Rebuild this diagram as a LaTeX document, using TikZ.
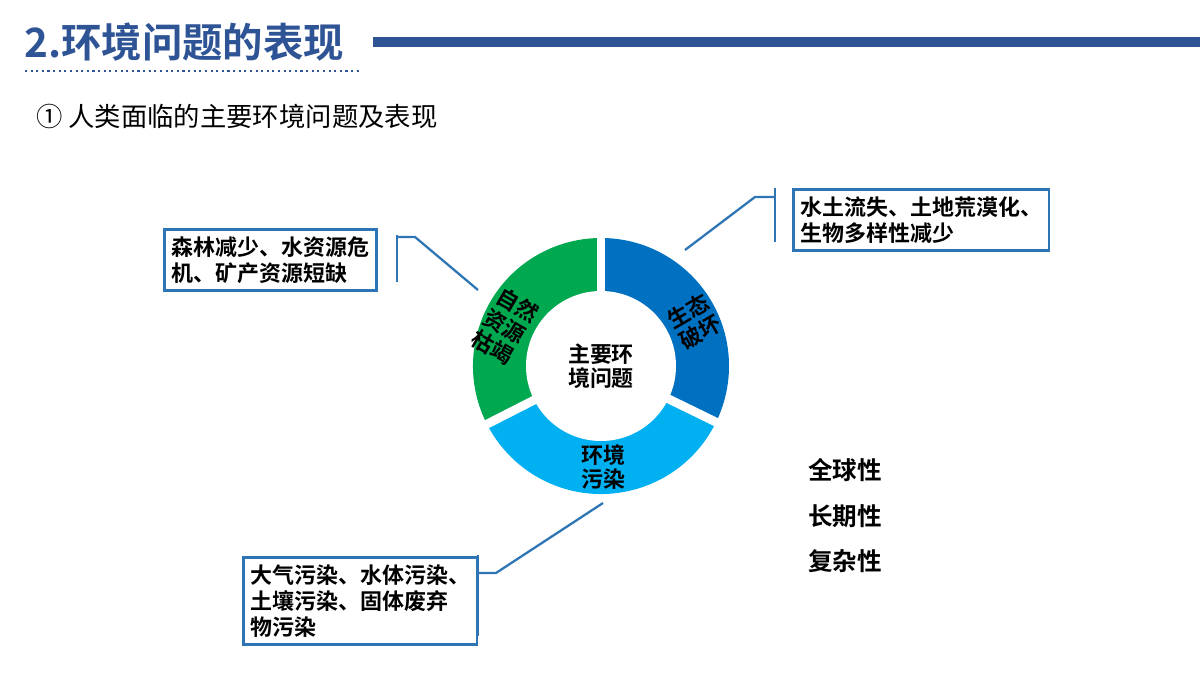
\documentclass[tikz,border=0pt]{standalone}
\usepackage{fontspec}
\setmainfont{Noto Sans CJK SC}
\newfontfamily\cjkbold{Noto Sans CJK SC Bold}
\usetikzlibrary{positioning}
\definecolor{titleblue}{RGB}{47,84,150}
\definecolor{boxblue}{RGB}{46,117,182}
\definecolor{ringgreen}{RGB}{0,168,80}
\definecolor{ringdark}{RGB}{0,112,192}
\definecolor{ringlight}{RGB}{0,176,240}
\tikzset{
  infobox/.style={draw=boxblue,line width=1.6pt,align=left,inner sep=4pt,
    font=\cjkbold\fontsize{12.5pt}{15pt}\selectfont},
  callout/.style={draw=boxblue,line width=1.3pt},
  ringtext/.style={align=center,inner sep=0pt,font=\cjkbold\fontsize{12.5pt}{14pt}\selectfont},
  trait/.style={font=\cjkbold\fontsize{14pt}{16pt}\selectfont,anchor=west}
}
\begin{document}
\begin{tikzpicture}[x=0.02cm,y=-0.02cm]
    \useasboundingbox (0,0) rectangle (1200,675);
    %Header
    \node[anchor=west,text=titleblue,font=\cjkbold\fontsize{23pt}{26pt}\selectfont] (title) at (18,42) {2.环境问题的表现};
    \fill[titleblue] (373,37) rectangle (1200,47);
    \draw[titleblue,line width=1.2pt,dotted] (25,71) -- (360,71);
    \node[anchor=west,font=\fontsize{15pt}{18pt}\selectfont] (sub) at (30,116) {① 人类面临的主要环境问题及表现};

    %Ring (y axis points down, so angles are mirrored)
    \coordinate (c) at (601,366);
    \fill[ringdark] (c) -- ++(-90:128) arc[start angle=-90,end angle=26,radius=128] -- cycle;
    \fill[ringgreen] (c) -- ++(-207:128) arc[start angle=-207,end angle=-90,radius=128] -- cycle;
    \fill[ringlight] (c) -- ++(26:128) arc[start angle=26,end angle=153,radius=128] -- cycle;
    \fill[white] (c) circle[radius=75];
    \foreach \a in {-90,-207,26}
      \draw[white,line width=5pt] (c) -- ++(\a:135);
    \node[ringtext] (core) at (c) {主要环\\境问题};
    \node[ringtext,rotate=-30] (nature) at (505,326) {自然\\资源\\枯竭};
    \node[ringtext,rotate=30] (eco) at (694,322) {生态\\破坏};
    \node[ringtext] (pollute) at (603,467) {环境\\污染};

    %Boxes
    \node[infobox,anchor=north west] (boxl) at (163,228) {森林减少、水资源危\\机、矿产资源短缺};
    \node[infobox,anchor=north west] (boxr) at (792,188) {水土流失、土地荒漠化、\\生物多样性减少};
    \node[infobox,anchor=north west] (boxb) at (242,556) {大气污染、水体污染、\\土壤污染、固体废弃\\物污染};

    %Callouts
    \coordinate (lt) at (478,290);
    \coordinate (rt) at (685,250);
    \coordinate (bt) at (603,503);
    \draw[callout] (397,235) -- (397,282);
    \draw[callout] (397,237) -- (415,237) -- (lt);
    \draw[callout] (775,188) -- (775,242);
    \draw[callout] (775,197) -- (755,197) -- (rt);
    \draw[callout] (478,555) -- (478,636);
    \draw[callout] (478,573) -- (496,573) -- (bt);

    %Traits
    \node[trait] (t1) at (802,470) {全球性};
    \node[trait] (t2) at (802,516) {长期性};
    \node[trait] (t3) at (802,561) {复杂性};
\end{tikzpicture}
\end{document}
